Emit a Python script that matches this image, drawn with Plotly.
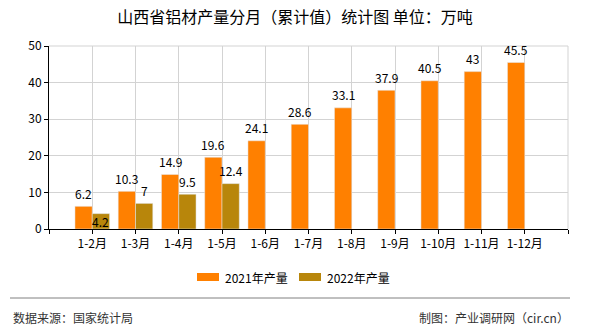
import plotly.graph_objects as go

categories = ["1-2月", "1-3月", "1-4月", "1-5月", "1-6月", "1-7月", "1-8月", "1-9月", "1-10月", "1-11月", "1-12月"]
values_2021 = [6.2, 10.3, 14.9, 19.6, 24.1, 28.6, 33.1, 37.9, 40.5, 43, 45.5]
values_2022 = [4.2, 7, 9.5, 12.4, None, None, None, None, None, None, None]
series_names = ["2021年产量", "2022年产量"]
series_colors = ["#FF8000", "#B8860B"]
y_ticks = [0, 10, 20, 30, 40, 50]

FONT = "Noto Sans CJK SC, SimSun, sans-serif"
xpos = list(range(len(categories)))

# plot area in pixels
L, R, T, B = 49, 568, 46, 229
PW, PH = R - L, B - T
def px(x):
    return (x - L) / PW
def py(y):
    return (B - y) / PH

fig = go.Figure()
for name, vals, col in zip(series_names, [values_2021, values_2022], series_colors):
    fig.add_trace(go.Bar(x=xpos, y=vals, name=name, marker_color=col, showlegend=False))

# value labels
for i, v in enumerate(values_2021):
    fig.add_annotation(x=i - 0.2, y=v, xref="x", yref="y", text=f"{v:g}", showarrow=False,
                       yshift=13, font=dict(size=12, color="#000", family=FONT))
for i, v in enumerate(values_2022):
    if v is None:
        continue
    shift = -8 if i == 0 else 13
    fig.add_annotation(x=i + 0.2, y=v, xref="x", yref="y", text=f"{v:g}", showarrow=False,
                       yshift=shift, font=dict(size=12, color="#000", family=FONT))

tickvals = [-1] + xpos + [len(categories)]
ticktext = [""] + categories + [""]

fig.update_layout(
    width=590, height=330,
    margin=dict(l=L, r=590 - R, t=T, b=330 - B),
    paper_bgcolor="white", plot_bgcolor="white",
    barmode="group", bargap=0.2, bargroupgap=0,
    title=dict(text="山西省铝材产量分月（累计值）统计图 单位：万吨", x=0.5, xanchor="center",
               y=1 - 17 / 330, yanchor="middle",
               font=dict(size=16, color="#000", family=FONT)),
    font=dict(family=FONT, size=12, color="#000"),
    xaxis=dict(range=[-1, len(categories)], tickvals=tickvals, ticktext=ticktext,
               showgrid=True, gridcolor="#D3D3D3", gridwidth=1,
               showline=True, linecolor="#000", linewidth=1,
               ticks="outside", ticklen=4, tickcolor="#000",
               tickfont=dict(size=12, color="#000", family=FONT), zeroline=False),
    yaxis=dict(range=[0, 50], tickvals=y_ticks,
               showgrid=True, gridcolor="#D3D3D3", gridwidth=1,
               showline=True, linecolor="#000", linewidth=1,
               ticks="outside", ticklen=4, tickcolor="#000",
               tickfont=dict(size=12, color="#000", family=FONT), zeroline=False),
    showlegend=False,
)

# top border line and right border
fig.add_shape(type="line", xref="paper", yref="paper", x0=0, x1=1, y0=1, y1=1,
              line=dict(color="#D3D3D3", width=1))
fig.add_shape(type="line", xref="paper", yref="paper", x0=1, x1=1, y0=0, y1=1,
              line=dict(color="#D3D3D3", width=1))

# custom legend
legend_items = [(197, 219, 223), (299, 321, 325)]
for (x0, x1, tx), name, col in zip(legend_items, series_names, series_colors):
    fig.add_shape(type="rect", xref="paper", yref="paper", x0=px(x0), x1=px(x1),
                  y0=py(281), y1=py(273), line=dict(width=0), fillcolor=col)
    fig.add_annotation(text=name, xref="paper", yref="paper", x=px(tx), y=py(277),
                       xanchor="left", yanchor="middle", showarrow=False,
                       font=dict(size=12, color="#000", family=FONT))

# footer separator
fig.add_shape(type="line", xref="paper", yref="paper",
              x0=px(10), x1=px(570), y0=py(298), y1=py(298),
              line=dict(color="#808080", width=1))
fig.add_annotation(text="数据来源：国家统计局", xref="paper", yref="paper",
                   x=px(11), y=py(317), xanchor="left", yanchor="middle",
                   showarrow=False, font=dict(size=12, color="#333", family=FONT))
fig.add_annotation(text="制图：产业调研网（cir.cn）", xref="paper", yref="paper",
                   x=px(571), y=py(317), xanchor="right", yanchor="middle",
                   showarrow=False, font=dict(size=12, color="#333", family=FONT))

fig.write_html("out.html")
